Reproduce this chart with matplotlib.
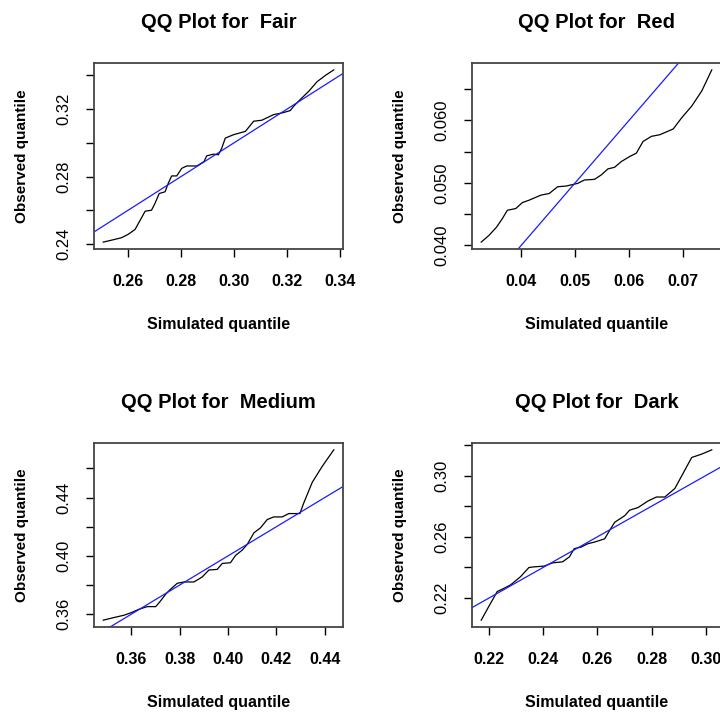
import matplotlib.pyplot as plt

plt.rcParams['font.family'] = ['Liberation Sans', 'DejaVu Sans']

# simulated (x) and observed (y) quantiles
fair_sim = [0.2507, 0.2545, 0.2576, 0.2601, 0.2627, 0.2646, 0.2665, 0.2689, 0.2702, 0.2718,
            0.2740, 0.2752, 0.2765, 0.2784, 0.2803, 0.2822, 0.2860, 0.2887, 0.2897, 0.2923,
            0.2941, 0.2954, 0.2967, 0.2998, 0.3043, 0.3074, 0.3105, 0.3149, 0.3181, 0.3212,
            0.3225, 0.3250, 0.3282, 0.3313, 0.3345, 0.3376]
fair_obs = [0.2412, 0.2426, 0.2438, 0.2458, 0.2487, 0.2541, 0.2595, 0.2601, 0.2641, 0.2700,
            0.2710, 0.2760, 0.2804, 0.2804, 0.2849, 0.2863, 0.2863, 0.2889, 0.2923, 0.2933,
            0.2929, 0.2969, 0.3028, 0.3048, 0.3068, 0.3128, 0.3134, 0.3167, 0.3177, 0.3191,
            0.3217, 0.3257, 0.3306, 0.3362, 0.3400, 0.3432]

red_sim = [0.03262, 0.03405, 0.03547, 0.03653, 0.03746, 0.03901, 0.04025, 0.04149, 0.04366,
           0.04521, 0.04676, 0.04831, 0.05048, 0.05172, 0.05358, 0.05482, 0.05606, 0.05730,
           0.05854, 0.06009, 0.06133, 0.06257, 0.06412, 0.06567, 0.06815, 0.06970, 0.07156,
           0.07342, 0.07528]
red_obs = [0.04054, 0.04161, 0.04295, 0.04429, 0.04563, 0.04590, 0.04686, 0.04724, 0.04804,
           0.04831, 0.04938, 0.04949, 0.04992, 0.05046, 0.05056, 0.05126, 0.05223, 0.05249,
           0.05340, 0.05421, 0.05475, 0.05662, 0.05743, 0.05769, 0.05861, 0.06038, 0.06225,
           0.06466, 0.06804]

medium_sim = [0.3484, 0.3528, 0.3570, 0.3600, 0.3632, 0.3666, 0.3701, 0.3721, 0.3742, 0.3762,
              0.3790, 0.3818, 0.3859, 0.3893, 0.3921, 0.3955, 0.3976, 0.4010, 0.4031, 0.4059,
              0.4079, 0.4107, 0.4134, 0.4162, 0.4189, 0.4224, 0.4251, 0.4297, 0.4313, 0.4348,
              0.4389, 0.4437]
medium_obs = [0.3559, 0.3577, 0.3593, 0.3611, 0.3634, 0.3652, 0.3652, 0.3691, 0.3737, 0.3771,
              0.3812, 0.3821, 0.3821, 0.3855, 0.3903, 0.3907, 0.3948, 0.3953, 0.4003, 0.4040,
              0.4078, 0.4158, 0.4192, 0.4249, 0.4267, 0.4267, 0.4290, 0.4290, 0.4363, 0.4504,
              0.4613, 0.4727]

dark_sim = [0.2172, 0.2200, 0.2231, 0.2249, 0.2280, 0.2317, 0.2348, 0.2367, 0.2404, 0.2435,
            0.2472, 0.2497, 0.2515, 0.2540, 0.2565, 0.2590, 0.2627, 0.2645, 0.2664, 0.2701,
            0.2719, 0.2750, 0.2787, 0.2818, 0.2849, 0.2886, 0.2917, 0.2948, 0.2985, 0.3022]
dark_obs = [0.2056, 0.2146, 0.2243, 0.2258, 0.2286, 0.2340, 0.2400, 0.2404, 0.2409, 0.2430,
            0.2437, 0.2469, 0.2523, 0.2533, 0.2555, 0.2566, 0.2587, 0.2641, 0.2695, 0.2738,
            0.2774, 0.2791, 0.2834, 0.2860, 0.2860, 0.2916, 0.3017, 0.3118, 0.3140, 0.3168]

# tick positions and which ones get a label
fair_xticks = [0.26, 0.28, 0.30, 0.32, 0.34]
fair_xlabels = ['0.26', '0.28', '0.30', '0.32', '0.34']
fair_yticks = [0.24, 0.26, 0.28, 0.30, 0.32, 0.34]
fair_ylabels = ['0.24', '', '0.28', '', '0.32', '']

red_xticks = [0.04, 0.05, 0.06, 0.07]
red_xlabels = ['0.04', '0.05', '0.06', '0.07']
red_yticks = [0.040, 0.045, 0.050, 0.055, 0.060, 0.065]
red_ylabels = ['0.040', '', '0.050', '', '0.060', '']

medium_xticks = [0.36, 0.38, 0.40, 0.42, 0.44]
medium_xlabels = ['0.36', '0.38', '0.40', '0.42', '0.44']
medium_yticks = [0.36, 0.38, 0.40, 0.42, 0.44, 0.46]
medium_ylabels = ['0.36', '', '0.40', '', '0.44', '']

dark_xticks = [0.22, 0.24, 0.26, 0.28, 0.30]
dark_xlabels = ['0.22', '0.24', '0.26', '0.28', '0.30']
dark_yticks = [0.22, 0.24, 0.26, 0.28, 0.30, 0.32]
dark_ylabels = ['0.22', '', '0.26', '', '0.30', '']

panels = [
    ('Fair', fair_sim, fair_obs, fair_xticks, fair_xlabels, fair_yticks, fair_ylabels),
    ('Red', red_sim, red_obs, red_xticks, red_xlabels, red_yticks, red_ylabels),
    ('Medium', medium_sim, medium_obs, medium_xticks, medium_xlabels, medium_yticks, medium_ylabels),
    ('Dark', dark_sim, dark_obs, dark_xticks, dark_xlabels, dark_yticks, dark_ylabels),
]


def r_range(v):
    # R style axis range: data range plus 4% on each side
    lo, hi = min(v), max(v)
    d = 0.04 * (hi - lo)
    return lo - d, hi + d


W, H = 720, 715
fig = plt.figure(figsize=(W / 100, H / 100), dpi=100)

# axes boxes in pixels: left, top, width, height (right column runs past the edge)
boxes = [(94, 63, 249, 186), (472, 63, 249, 186),
         (94, 443, 249, 184), (472, 443, 249, 184)]

for (name, xs, ys, xt, xl, yt, yl), (bl, bt, bw, bh) in zip(panels, boxes):
    ax = fig.add_axes([bl / W, (H - bt - bh) / H, bw / W, bh / H])
    ax.plot(xs, ys, color='black', lw=0.9)
    ax.set_xlim(r_range(xs))
    ax.set_ylim(r_range(ys))
    ax.axline((0, 0), slope=1, color='#1a1aff', lw=0.9)

    ax.set_xticks(xt)
    ax.set_xticklabels(xl, fontsize=11.5, fontweight='bold')
    ax.set_yticks(yt)
    ax.set_yticklabels(yl, fontsize=12, rotation=90, va='center')
    ax.tick_params(axis='both', direction='out', length=6, width=1, color='black')
    ax.tick_params(axis='x', pad=12)
    ax.tick_params(axis='y', pad=10)

    for sp in ax.spines.values():
        sp.set_color('#444444')
        sp.set_linewidth(1.3)

    ax.set_title(f'QQ Plot for  {name}', fontsize=14.5, fontweight='bold', pad=25)
    ax.set_xlabel('Simulated quantile', fontsize=11.5, fontweight='bold')
    ax.set_ylabel('Observed quantile', fontsize=11, fontweight='bold')
    ax.xaxis.set_label_coords(0.5, -68 / bh)
    ax.yaxis.set_label_coords(-65 / bw, 0.5)

fig.savefig('out.png', dpi=100, facecolor='white')
